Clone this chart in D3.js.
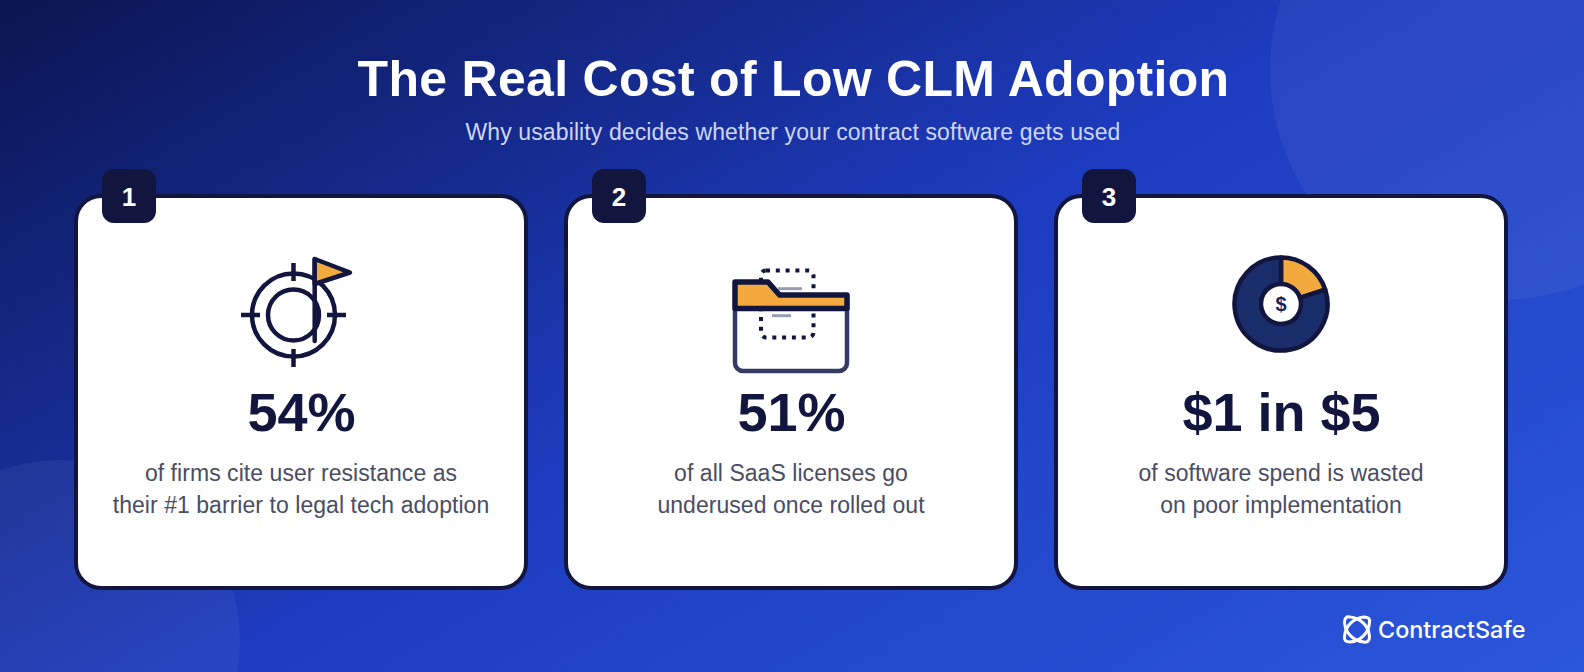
<!DOCTYPE html>
<html><head><meta charset="utf-8">
<script src="https://cdn.jsdelivr.net/npm/d3@7"></script>
<style>html,body{margin:0;padding:0;background:#1e3bb5;overflow:hidden}svg{display:block}text{font-family:"Liberation Sans",Arial,sans-serif}</style>
</head><body><svg id="c" width="1584" height="672"></svg>
<script>
const titleText = "The Real Cost of Low CLM Adoption";
const subtitleText = "Why usability decides whether your contract software gets used";
const ranks = ["1","2","3"];
const stats = ["54%","51%","$1 in $5"];
const line1 = ["of firms cite user resistance as","of all SaaS licenses go","of software spend is wasted"];
const line2 = ["their #1 barrier to legal tech adoption","underused once rolled out","on poor implementation"];
const wastedShare = [20, 80];

const NAVY="#12163f", ORANGE="#f2a93e", BODY="#4a4d63";
const svg=d3.select("#c");
const defs=svg.append("defs");
const g=defs.append("linearGradient").attr("id","bg").attr("gradientUnits","userSpaceOnUse")
  .attr("x1",449).attr("y1",-259).attr("x2",1135).attr("y2",931);
[[0,"#0b1550"],[0.5,"#1e3cc0"],[1,"#2b57db"]].forEach(s=>g.append("stop").attr("offset",s[0]).attr("stop-color",s[1]));
svg.append("rect").attr("width",1584).attr("height",672).attr("fill","url(#bg)");
svg.append("circle").attr("cx",1500).attr("cy",70).attr("r",230).attr("fill","#fff").attr("opacity",0.05);
svg.append("circle").attr("cx",60).attr("cy",640).attr("r",180).attr("fill","#fff").attr("opacity",0.05);

svg.append("text").attr("x",793.5).attr("y",96).attr("text-anchor","middle").attr("font-size",50).attr("font-weight",700)
  .attr("letter-spacing",0.3).attr("fill","#fff").text(titleText);
svg.append("text").attr("x",793).attr("y",140).attr("text-anchor","middle").attr("font-size",23)
  .attr("letter-spacing",0.11).attr("fill","#cdd6f5").text(subtitleText);

const x=d3.scalePoint().domain(ranks).range([75,1055]);
const cardW=452;
const cards=svg.selectAll("g.card").data(ranks).join("g").attr("class","card").attr("transform",d=>`translate(${x(d)},0)`);
cards.append("rect").attr("x",1).attr("y",196).attr("width",cardW-2).attr("height",392).attr("rx",25).attr("fill","#fff").attr("stroke",NAVY).attr("stroke-width",4);
cards.append("rect").attr("x",27).attr("y",169).attr("width",54).attr("height",54).attr("rx",12).attr("fill",NAVY);
cards.append("text").attr("x",54).attr("y",205.5).attr("text-anchor","middle").attr("font-size",26).attr("font-weight",700).attr("fill","#fff").text(d=>d);
cards.append("text").attr("x",cardW/2+0.5).attr("y",431).attr("text-anchor","middle").attr("font-size",54).attr("font-weight",700).attr("fill",NAVY).text((d,i)=>stats[i]);
cards.append("text").attr("x",cardW/2).attr("y",481).attr("text-anchor","middle").attr("font-size",23).attr("letter-spacing",0.05).attr("fill",BODY).text((d,i)=>line1[i]);
cards.append("text").attr("x",cardW/2).attr("y",513).attr("text-anchor","middle").attr("font-size",23).attr("letter-spacing",0.05).attr("fill",BODY).text((d,i)=>line2[i]);

// icon 1
const i1=svg.append("g").attr("fill","none").attr("stroke",NAVY).attr("stroke-width",4.5);
i1.append("circle").attr("cx",293.5).attr("cy",315).attr("r",41.5);
i1.append("circle").attr("cx",293.5).attr("cy",315).attr("r",25.5);
[[293.5,263,293.5,281],[293.5,349,293.5,367],[241,315,260,315],[327,315,346,315]].forEach(l=>i1.append("line").attr("x1",l[0]).attr("y1",l[1]).attr("x2",l[2]).attr("y2",l[3]));
i1.append("line").attr("x1",314.7).attr("y1",259).attr("x2",314.7).attr("y2",341).attr("stroke-linecap","round");
i1.append("path").attr("d","M314.7 259L350 272.5L314.7 284Z").attr("fill",ORANGE).attr("stroke-linejoin","round");

// icon 2
const i2=svg.append("g").attr("fill","none");
i2.append("rect").attr("x",761).attr("y",270.5).attr("width",52.5).attr("height",67).attr("rx",5).attr("stroke",NAVY).attr("stroke-width",4).attr("stroke-dasharray","4 5.8");
i2.append("line").attr("x1",778).attr("y1",288.7).attr("x2",802).attr("y2",288.7).attr("stroke","#9a9cb3").attr("stroke-width",3);
i2.append("line").attr("x1",772).attr("y1",315.7).attr("x2",791).attr("y2",315.7).attr("stroke","#9a9cb3").attr("stroke-width",3);
i2.append("path").attr("d","M735 308V363a8 8 0 0 0 8 8H839a8 8 0 0 0 8-8V295").attr("stroke","#353a63").attr("stroke-width",4.5);
i2.append("path").attr("d","M735 282H768L779.5 295H847V308.5H735Z").attr("fill",ORANGE).attr("stroke",NAVY).attr("stroke-width",5.5).attr("stroke-linejoin","round");

// icon 3
const i3=svg.append("g").attr("transform","translate(1281,304)");
const arc=d3.arc().innerRadius(20).outerRadius(46.5);
const pie=d3.pie().sort(null)(wastedShare);
i3.selectAll("path").data(pie).join("path").attr("d",arc).attr("fill",(d,i)=>i?"#1a2d6b":ORANGE).attr("stroke",NAVY).attr("stroke-width",4.5).attr("stroke-linejoin","round");
i3.append("text").attr("y",7).attr("text-anchor","middle").attr("font-size",20).attr("font-weight",700).attr("fill","#14235f").text("$");

// logo
const lg=svg.append("g").attr("transform","translate(1357,629.5)").attr("fill","none").attr("stroke","#fff").attr("stroke-width",3).attr("stroke-linejoin","round");
[0,90].forEach(a=>lg.append("path").attr("d","M-12.5 -7A21 21 0 0 0 7 12.5Q12.5 13.5 12.5 7A21 21 0 0 0 -7 -12.5Q-12.5 -13.5 -12.5 -7Z").attr("transform",`rotate(${a})`));
svg.append("text").attr("x",1378).attr("y",638).attr("font-size",23.4).attr("font-weight",500).attr("fill","#fff").style("font-family","Inter").text("ContractSafe");
</script></body></html>
